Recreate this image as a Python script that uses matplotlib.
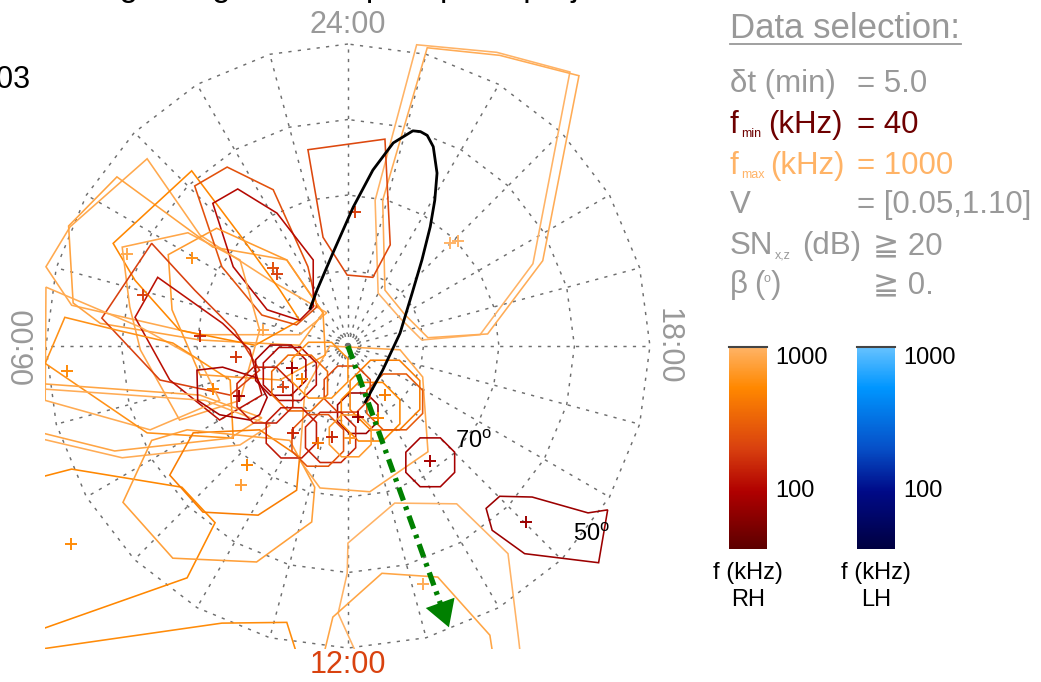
import numpy as np
import matplotlib
matplotlib.use("Agg")
import matplotlib.pyplot as plt
from matplotlib.colors import LinearSegmentedColormap, LogNorm
from matplotlib.cm import ScalarMappable
from matplotlib.lines import Line2D
from matplotlib.patches import Polygon, Circle

plt.rcParams['font.family'] = ['Liberation Sans', 'DejaVu Sans']
plt.rcParams['mathtext.fontset'] = 'custom'
plt.rcParams['mathtext.rm'] = 'Liberation Sans'

W, H = 1041, 682

# polar grid (colatitude in degrees from the pole, MLT in hours)
ring_colat = [10, 20, 30, 40]
ring_lat_labels = ['70', '50']
mlt_hours = list(range(24))

# frequency range of the selection (kHz)
f_min, f_max = 40, 1000

# large footprints: vertices in the polar plane (deg), frequency (kHz)
fp_A1 = [(9.1, 39.9), (19.7, 38.9), (29.4, 36.3), (24.5, 10.9), (17.5, 1.5), (9.8, 0.8), (6.9, 3.7), (4.0, 7.0), (3.6, 19.3)]
fp_A2 = [(10.5, 39.5), (20.1, 38.5), (30.6, 35.8), (25.8, 11.3), (18.5, 1.6), (10.6, 1.1), (7.5, 4.2), (4.9, 7.4), (4.6, 19.3)]
fp_B = [(-5.3, 26.0), (4.9, 27.4), (5.6, 13.4), (3.3, 9.1), (-0.1, 9.4), (-3.3, 14.4)]
fp_S = [(18.3, -21.5), (20.1, -19.9), (24.4, -20.0), (31.8, -22.1), (34.4, -21.7), (33.2, -28.7), (23.4, -27.5), (19.1, -24.4)]
fp_Q = [(0.0, -26.1), (6.2, -20.8), (14.4, -20.9), (21.2, -27.5), (22.6, -38.8), (23.0, -42.3), (1.2, -40.9), (-1.3, -35.4), (-0.1, -30.1)]
fp_R = [(-2.0, -35.9), (4.5, -30.1), (11.9, -30.6), (18.8, -38.3), (19.5, -42.9), (-3.7, -42.9)]
fp_T = [(-2.4, 0.0), (6.9, -0.5), (9.9, -4.1), (10.6, -14.0), (2.9, -19.3), (-3.7, -18.8), (-6.4, -15.1), (-5.7, -5.8)]
fp_U1 = [(-40.0, 10.5), (-36.8, 15.8), (-26.6, 24.8), (-19.6, 14.7), (-10.3, 8.7), (-2.8, 4.4), (-6.4, 1.5), (-19.6, 1.5), (-36.6, 5.4)]
fp_U2 = [(-37.0, 15.9), (-30.6, 22.4), (-17.9, 13.1), (-8.1, 11.4), (-3.3, 4.4), (-6.4, 0.1), (-19.6, 0.8), (-32.8, 3.0), (-36.4, 5.7)]
fp_U3 = [(-31.1, 13.6), (-20.7, 23.2), (-14.3, 14.7), (-9.0, 7.4), (-6.4, 3.4), (-12.3, 0.1), (-22.3, 2.1), (-28.2, 8.7)]
fp_U4 = [(-20.3, 21.2), (-16.0, 23.7), (-9.9, 20.7), (-5.3, 10.5), (-4.1, 5.2), (-6.8, 2.8), (-11.4, 4.1), (-16.7, 10.5)]
fp_U5 = [(-17.9, 18.9), (-14.6, 20.8), (-9.4, 17.6), (-4.6, 11.4), (-4.6, 5.2), (-6.4, 3.4), (-10.7, 4.8), (-15.2, 10.5)]
fp_U6 = [(-23.8, 12.1), (-17.4, 15.6), (-8.1, 11.4), (-3.3, 4.4), (-3.0, -1.2), (-9.0, -4.5), (-19.6, -3.8), (-23.3, 4.8)]
fp_U7 = [(-29.9, 13.1), (-21.2, 15.0), (-14.3, 11.4), (-11.7, 2.1), (-14.3, -7.2), (-22.3, -9.8), (-27.5, -0.5), (-28.9, 5.2)]
fp_U8 = [(-26.0, 13.6), (-20.3, 7.4), (-15.0, 2.1), (-11.7, -3.2), (-15.6, -6.5), (-24.9, -4.5), (-32.6, 3.7)]
fp_U9 = [(-25.2, 9.1), (-16.6, 3.0), (-13.0, -0.5), (-11.4, -6.5), (-17.0, -9.8), (-23.6, -4.5), (-28.2, 3.8)]
fp_V1 = [(-40.0, 7.8), (-27.5, 2.5), (-19.6, -1.9), (-17.0, -7.2), (-26.2, -11.1), (-40.1, -7.2)]
fp_V2 = [(-37.5, 3.8), (-30.6, 2.1), (-23.2, 0.4), (-15.6, -4.5), (-15.2, -12.2), (-26.6, -11.5), (-40.1, -2.3)]
fp_K1 = [(-47.4, -9.8), (-30.9, -13.9), (-15.6, -12.2), (-11.4, -9.5), (-19.6, -6.5), (-47.4, -4.5)]
fp_K2 = [(-47.4, -10.7), (-29.9, -14.8), (-14.3, -13.1), (-10.3, -10.5), (-18.9, -7.2), (-47.4, -5.2)]
fp_L = [(-47.4, -19.1), (-36.6, -16.3), (-22.0, -18.7), (-17.6, -23.4), (-21.3, -30.7), (-47.4, -39.9)]
fp_M = [(-20.5, -11.5), (-23.6, -17.1), (-19.2, -22.0), (-11.9, -22.4), (-6.8, -19.1), (-6.4, -14.7), (-11.7, -11.1)]
fp_N = [(-26.0, -12.5), (-29.8, -20.7), (-23.2, -28.1), (-12.1, -28.6), (-4.8, -23.3), (-4.4, -18.7), (-7.7, -12.5), (-21.3, -11.1)]
fp_P = [(-47.4, -41.1), (-16.7, -36.7), (-8.1, -36.6), (-5.7, -44.2), (-47.4, -46.9)]
fp_O = [(-20.0, -3.2), (-16.6, -2.8), (-12.1, -4.2), (-10.7, -6.8), (-11.7, -9.1), (-13.0, -9.8), (-17.0, -9.1), (-19.9, -7.2)]

big_polys = [fp_A1, fp_A2, fp_B, fp_S, fp_Q, fp_R, fp_T, fp_U1, fp_U2, fp_U3, fp_U4, fp_U5, fp_U6,
             fp_U7, fp_U8, fp_U9, fp_V1, fp_V2, fp_K1, fp_K2, fp_L, fp_M, fp_N, fp_P, fp_O]
big_freq = [1000, 900, 220, 80, 1000, 800, 850, 850, 780, 520, 250, 110, 700,
            820, 200, 120, 880, 600, 800, 900, 520, 450, 750, 560, 90]

# small (octagonal) footprints: centre, radius (deg), frequency (kHz)
oct_x = [10.9, 1.3, 4.9, 3.0, -0.1, -2.3, -8.9, -7.7, -6.4, -7.5, -4.0, 0.3, -11.0, -3.7, 6.2]
oct_y = [-15.4, -8.9, -6.5, -8.7, -5.7, -12.1, -3.2, -3.7, -4.9, -11.5, -12.5, -11.9, -6.5, -3.2, -7.4]
oct_r = [3.5, 2.9, 5.0, 4.2, 3.3, 3.6, 3.6, 3.8, 4.0, 3.6, 3.7, 3.0, 4.0, 4.0, 4.0]
oct_f = [90, 80, 450, 520, 220, 150, 90, 110, 350, 130, 260, 700, 140, 600, 280]

# footprint centres (+)
plus_x = [0.9, -29.3, -20.7, -9.9, -9.4, -27.2, -19.6, -11.3, -14.8, -37.2, -7.4, -6.1, -8.6, -14.4, -17.9,
          -7.3, -2.1, -4.0, 1.3, 0.3, 4.9, 4.0, 10.9, -13.4, -14.2, -36.7, 9.9, 23.6, 13.5, 14.6]
plus_y = [17.7, 12.2, 11.7, 10.3, 9.5, 6.8, 1.3, 2.1, -1.5, -3.3, -2.9, -4.4, -5.4, -6.6, -5.7,
          -11.5, -12.1, -12.8, -9.4, -12.2, -6.5, -9.5, -15.2, -15.8, -18.4, -26.2, -31.5, -23.3, 13.6, 13.9]
plus_f = [200, 850, 600, 250, 200, 200, 150, 850, 180, 550, 90, 450, 200, 90, 500,
          150, 150, 400, 80, 700, 450, 500, 90, 500, 750, 550, 900, 80, 1000, 1000]

# spacecraft footprint track
track_x = [-5.0, -4.1, -2.0, 0.7, 3.3, 6.0, 8.6, 9.6, 10.5, 11.3, 11.8, 11.5, 10.9, 9.8, 8.5, 6.9, 4.6, 2.3]
track_y = [5.0, 7.4, 12.3, 18.4, 23.3, 26.9, 28.5, 28.4, 27.9, 26.4, 22.9, 19.3, 15.8, 11.4, 7.0, 1.7, -3.2, -7.4]

arrow_start = (0.0, 0.0)
arrow_end = (13.5, -37.6)

rh_cmap = LinearSegmentedColormap.from_list(
    'rh', [(0, '#5c0000'), (0.285, '#b00000'), (0.5, '#d9410f'), (0.8, '#ff8800'), (1.0, '#ffb366')])
lh_cmap = LinearSegmentedColormap.from_list(
    'lh', [(0, '#000040'), (0.285, '#000a88'), (0.5, '#0650c8'), (0.8, '#0096ff'), (1.0, '#66c2ff')])
norm = LogNorm(vmin=f_min, vmax=f_max)

fig = plt.figure(figsize=(W / 100, H / 100), dpi=100)
fig.patch.set_facecolor('white')

# main polar-projection panel
ax = fig.add_axes([45.2 / W, 1 - 648.8 / H, 605.5 / W, 613.1 / H])
ax.set_xlim(-40.1, 40.1)
ax.set_ylim(-40.1, 41.1)
ax.axis('off')

grid_kw = dict(color='#6e6e6e', lw=1.05, ls=(0, (2.2, 4.3)), zorder=1)
th = np.radians(np.arange(0, 361, 15))
for c in ring_colat:
    ax.plot(-c * np.sin(th), c * np.cos(th), **grid_kw)
for h in mlt_hours:
    a = np.radians(h * 15)
    ax.plot([0, -40 * np.sin(a)], [0, 40 * np.cos(a)], **grid_kw)
ax.add_patch(Circle((0, 0), 1.7, fill=False, ec='#6e6e6e', lw=1.1, ls=(0, (1, 1.2)), zorder=1))

for verts, f in zip(big_polys, big_freq):
    ax.add_patch(Polygon(verts, closed=True, fill=False, ec=rh_cmap(norm(f)), lw=1.15, zorder=2))

ang = np.radians(22.5 + 45 * np.arange(8))
for cx, cy, r, f in zip(oct_x, oct_y, oct_r, oct_f):
    verts = np.column_stack([cx + r * np.cos(ang), cy + r * np.sin(ang)])
    ax.add_patch(Polygon(verts, closed=True, fill=False, ec=rh_cmap(norm(f)), lw=1.15, zorder=2))

for x, y, f in zip(plus_x, plus_y, plus_f):
    ax.plot(x, y, marker='+', ms=8, mew=1.4, color=rh_cmap(norm(f)), zorder=3)

ax.plot(track_x, track_y, color='black', lw=2.0, zorder=4)

# direction arrow
dx, dy = arrow_end[0] - arrow_start[0], arrow_end[1] - arrow_start[1]
ln = np.hypot(dx, dy)
base = (arrow_end[0] - 2.6 * dx / ln, arrow_end[1] - 2.6 * dy / ln)
ax.plot([arrow_start[0], base[0]], [arrow_start[1], base[1]], color='#008000', lw=3.8,
        ls=(0, (2.6, 1.2, 0.7, 1.2)), zorder=5)
ax.annotate('', xy=arrow_end, xytext=base,
            arrowprops=dict(arrowstyle='-|>,head_length=0.85,head_width=0.5', mutation_scale=22,
                            color='#008000', lw=0), zorder=5)

# hour and latitude labels
ax.text(0, 42.5, '24:00', ha='center', va='center', fontsize=22, color='#999999', clip_on=False)
ax.text(0, -42.3, '12:00', ha='center', va='center', fontsize=22, color='#d9420f', clip_on=False)
ax.text(-42.8, 0, '06:00', ha='center', va='center', fontsize=22, color='#999999', rotation=90, clip_on=False)
ax.text(42.4, 0, '18:00', ha='center', va='center', fontsize=22, color='#999999', rotation=270, clip_on=False)
ax.text(16.6, -12.6, ring_lat_labels[0] + r'$^{\mathrm{o}}$', ha='center', va='center', fontsize=17, color='black', zorder=6)
ax.text(32.3, -25.0, ring_lat_labels[1] + r'$^{\mathrm{o}}$', ha='center', va='center', fontsize=17, color='black', zorder=6)

# header text (cut by the top of the frame, as in the original)
fig.text(0.5 * 700 / W, 1 + 4 / H, 'Average magnetic footprint polar projection', ha='center', va='baseline',
         fontsize=24, color='black')
fig.text(31 / W, 1 - 80 / H, '2003', ha='right', va='center', fontsize=22, color='black')

# data selection panel
gray = '#999999'
fs = 22.5
def ftxt(px, py, s, **kw):
    kw.setdefault('fontsize', fs)
    kw.setdefault('color', gray)
    fig.text(px / W, 1 - py / H, s, va='baseline', **kw)

ftxt(730, 38, 'Data selection:', fontsize=25)
fig.add_artist(Line2D([730 / W, 961 / W], [1 - 44 / H, 1 - 44 / H], color=gray, lw=1.3))
ftxt(730, 92, 'δt (min)')
ftxt(857, 92, '= 5.0')
ftxt(730, 133, 'f', color='#6e0000')
ftxt(741, 137, 'min', color='#6e0000', fontsize=9)
ftxt(768, 133, '(kHz)', color='#6e0000')
ftxt(857, 133, '= 40', color='#6e0000')
ftxt(730, 174, 'f', color='#ffb366')
ftxt(741, 178, 'max', color='#ffb366', fontsize=9)
ftxt(770, 174, '(kHz)', color='#ffb366')
ftxt(857, 174, '= 1000', color='#ffb366')
ftxt(730, 213, 'V')
ftxt(857, 213, '= [0.05,1.10]')
ftxt(730, 254, 'SN')
ftxt(775, 258, 'x,z', fontsize=9)
ftxt(802, 254, '(dB)')
ftxt(873, 254, '≧ 20')
ftxt(730, 293, 'β')
ftxt(754, 293, '(', fontsize=fs)
ftxt(763, 282, 'o', fontsize=9)
ftxt(771, 293, ')', fontsize=fs)
ftxt(873, 293, '≧ 0.')

# colour bars
for x0, cmap, name in [(729, rh_cmap, 'RH'), (857, lh_cmap, 'LH')]:
    cax = fig.add_axes([x0 / W, 1 - 549 / H, 38 / W, 202 / H])
    cb = fig.colorbar(ScalarMappable(norm=norm, cmap=cmap), cax=cax)
    cb.outline.set_visible(False)
    cb.set_ticks([])
    cb.minorticks_off()
    cax.axhline(f_max, color='#444444', lw=1.5, clip_on=False)
    tr = cax.get_yaxis_transform()
    cax.text(1.22, 1000, '1000', transform=tr, ha='left', va='top', fontsize=17, color='black')
    cax.text(1.22, 100, '100', transform=tr, ha='left', va='center', fontsize=17, color='black')
    fig.text((x0 + 19) / W, 1 - 573 / H, 'f (kHz)', ha='center', va='center', fontsize=17, color='black')
    fig.text((x0 + 19) / W, 1 - 600 / H, name, ha='center', va='center', fontsize=17, color='black')

fig.savefig('out.png', dpi=100, facecolor='white')
